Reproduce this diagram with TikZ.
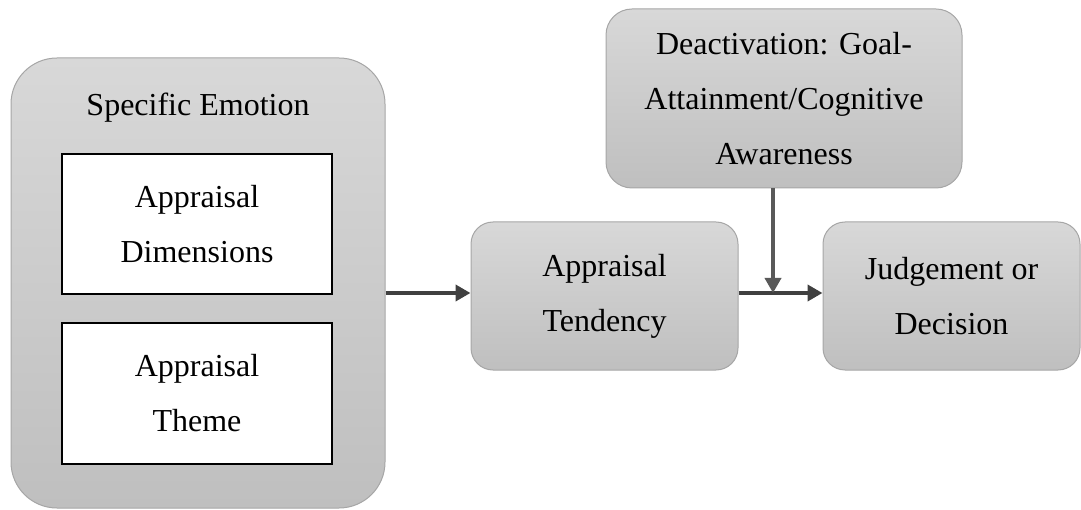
\documentclass[tikz,border=0pt]{standalone}
\usepackage{fontspec}
\setmainfont{Liberation Serif}
\usetikzlibrary{arrows.meta,calc}
\definecolor{topg}{HTML}{D8D8D8}
\definecolor{botg}{HTML}{BFBFBF}
\definecolor{edgeg}{HTML}{A6A6A6}
\definecolor{arrowd}{HTML}{404040}
\definecolor{arrowm}{HTML}{595959}
\tikzset{
  graybox/.style={draw=edgeg, line width=1pt, top color=topg, bottom color=botg,
    align=center, inner sep=0pt, font={\fontsize{32}{55}\selectfont}},
  whitebox/.style={draw=black, line width=2pt, fill=white, align=center, inner sep=0pt,
    font={\fontsize{32}{55}\selectfont}},
  lbl/.style={inner sep=0pt, font={\fontsize{32}{55}\selectfont}},
  flow/.style={draw=arrowd, line width=4pt, -{Triangle[length=15pt,width=16pt]}},
  modarrow/.style={draw=arrowm, line width=3.5pt, -{Triangle[length=15pt,width=16pt]}}
}
\begin{document}
\begin{tikzpicture}[x=1pt,y=-1pt]
\useasboundingbox (0,0) rectangle (1081,510);
\node[graybox, rounded corners=46pt, minimum width=374pt, minimum height=450pt] (emo) at (198,283) {};
\node[lbl] (emolbl) at (198,108) {Specific Emotion};
\node[whitebox, minimum width=270pt, minimum height=140pt] (dim) at (197,224) {Appraisal\\Dimensions};
\node[whitebox, minimum width=270pt, minimum height=141pt] (theme) at (197,393.5) {Appraisal\\Theme};
\node[graybox, rounded corners=22pt, minimum width=267pt, minimum height=148pt] (tend) at (604.5,296) {Appraisal\\Tendency};
\node[graybox, rounded corners=26pt, minimum width=356pt, minimum height=179pt] (deact) at (784,98.5) {Deactivation: Goal-\\Attainment/Cognitive\\Awareness};
\node[graybox, rounded corners=22pt, minimum width=257pt, minimum height=148pt] (judg) at (951.5,296) {Judgement or\\Decision};
\draw[flow] (emo.east |- 0,293) -- (tend.west |- 0,293);
\draw[flow] (tend.east |- 0,293) -- (judg.west |- 0,293);
\coordinate (m) at (773,293);
\draw[modarrow] (deact.south -| m) -- (m);
\end{tikzpicture}
\end{document}
